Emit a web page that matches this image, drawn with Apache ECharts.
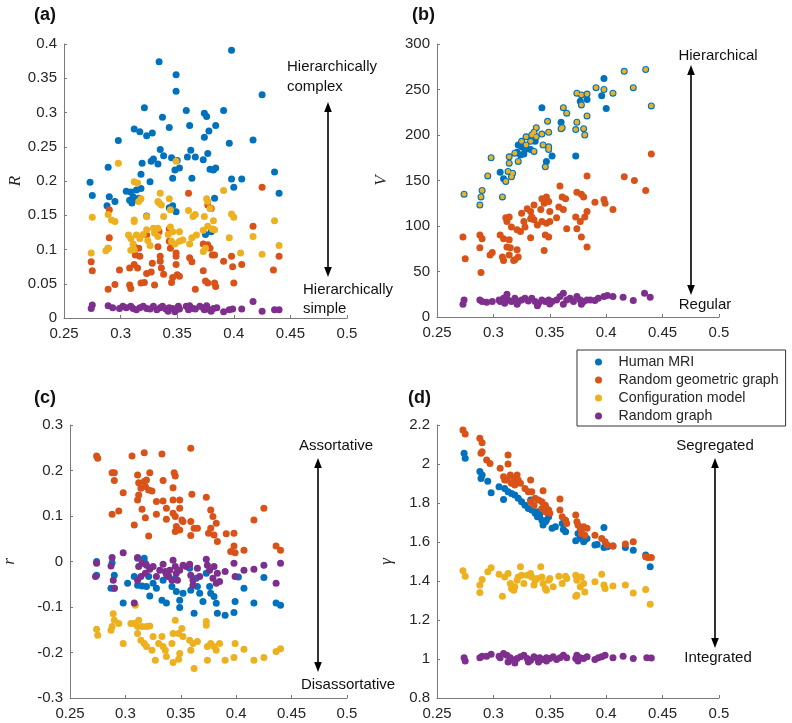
<!DOCTYPE html>
<html>
<head>
<meta charset="utf-8">
<script src="https://cdn.jsdelivr.net/npm/echarts@6/dist/echarts.min.js"></script>
<style>html,body{margin:0;padding:0;background:#fff}#c{width:792px;height:723px}</style>
</head>
<body>
<div id="c"></div>
<script>
// ---------- names, colours, axes ----------
const seriesNames = ['Human MRI', 'Random geometric graph', 'Configuration model', 'Random graph'];
const colors = ['#0072BD', '#D95319', '#EDB120', '#7E2F8E'];
const xRange = [0.25, 0.5, 0.05];
const yRangeA = [0, 0.4, 0.05];
const yRangeB = [0, 300, 50];
const yRangeC = [-0.3, 0.3, 0.1];
const yRangeD = [0.8, 2.2, 0.2];
const yNames = ['R', 'V', 'r', 'γ'];
const panelLabels = ['(a)', '(b)', '(c)', '(d)'];

// ---------- panel (a): R ----------
const aHuman = [[.398,.391],[.334,.374],[.349,.355],[.349,.331],[.425,.326],[.321,.307],[.358,.303],[.374,.299],[.376,.294],[.391,.303],[.337,.293],[.312,.276],[.317,.272],[.323,.266],[.328,.270],[.343,.278],[.361,.281],[.384,.281],[.378,.273],[.374,.264],[.298,.259],[.396,.255],[.417,.260],[.335,.246],[.338,.237],[.329,.232],[.327,.229],[.333,.225],[.345,.234],[.350,.230],[.348,.216],[.352,.219],[.346,.204],[.363,.204],[.359,.235],[.362,.245],[.366,.235],[.377,.240],[.373,.231],[.379,.217],[.382,.216],[.384,.219],[.319,.226],[.318,.210],[.326,.199],[.289,.220],[.273,.198],[.275,.179],[.398,.203],[.407,.203],[.400,.191],[.436,.213],[.440,.182],[.305,.185],[.309,.184],[.314,.187],[.318,.189],[.311,.177],[.308,.172],[.290,.177],[.295,.170],[.288,.164],[.310,.168],[.346,.164],[.343,.161],[.383,.175],[.349,.155],[.323,.149],[.380,.126],[.375,.122],[.312,.173],[.316,.175]];
const aRGG = [[.360,.182],[.425,.191],[.377,.165],[.380,.160],[.290,.158],[.417,.134],[.290,.117],[.289,.102],[.274,.082],[.275,.069],[.299,.070],[.295,.049],[.289,.042],[.308,.048],[.309,.043],[.312,.104],[.313,.092],[.312,.078],[.315,.073],[.316,.102],[.317,.090],[.318,.051],[.321,.052],[.323,.065],[.327,.067],[.328,.080],[.333,.104],[.334,.126],[.335,.083],[.336,.073],[.338,.064],[.343,.112],[.344,.102],[.345,.052],[.346,.059],[.349,.095],[.349,.090],[.349,.078],[.350,.063],[.352,.061],[.361,.088],[.363,.082],[.366,.042],[.373,.108],[.377,.107],[.379,.102],[.381,.092],[.383,.092],[.373,.069],[.375,.054],[.377,.051],[.383,.051],[.384,.046],[.391,.083],[.398,.090],[.399,.075],[.400,.051],[.407,.078],[.435,.070],[.440,.090],[.343,.130],[.323,.121],[.308,.073],[.335,.090],[.330,.048]];
const aConfig = [[.298,.226],[.349,.229],[.312,.199],[.315,.197],[.275,.147],[.289,.151],[.292,.143],[.295,.141],[.335,.182],[.336,.165],[.334,.168],[.318,.174],[.316,.170],[.333,.170],[.344,.158],[.343,.174],[.312,.143],[.312,.141],[.323,.148],[.338,.148],[.360,.157],[.364,.148],[.366,.151],[.374,.148],[.382,.142],[.377,.170],[.376,.174],[.379,.160],[.391,.186],[.398,.152],[.400,.147],[.436,.142],[.440,.106],[.417,.119],[.425,.093],[.406,.095],[.396,.117],[.274,.095],[.287,.098],[.289,.102],[.307,.121],[.309,.116],[.311,.108],[.312,.100],[.314,.121],[.317,.116],[.320,.122],[.323,.129],[.324,.113],[.326,.106],[.329,.131],[.330,.124],[.333,.119],[.342,.122],[.344,.133],[.346,.126],[.352,.126],[.361,.108],[.363,.117],[.367,.121],[.373,.128],[.377,.134],[.381,.130],[.383,.129],[.345,.112],[.348,.108],[.352,.112],[.355,.114],[.373,.097],[.375,.102],[.309,.099],[.333,.131]];
const aRandom = [[.275,.019],[.274,.014],[.289,.018],[.293,.015],[.299,.014],[.305,.015],[.311,.014],[.317,.015],[.323,.014],[.329,.017],[.335,.015],[.340,.013],[.346,.014],[.349,.012],[.352,.013],[.358,.017],[.361,.018],[.364,.014],[.373,.015],[.377,.013],[.382,.014],[.391,.009],[.396,.012],[.399,.013],[.407,.013],[.417,.024],[.425,.010],[.436,.012],[.440,.012],[.309,.017],[.320,.017],[.326,.013],[.337,.017],[.343,.015],[.348,.009],[.351,.017],[.360,.012],[.374,.012],[.380,.010],[.385,.015],[.302,.017],[.314,.012],[.332,.012],[.342,.010],[.366,.013],[.370,.017],[.376,.018]];

// ---------- panel (b): V ----------
const bShared = [[.274,135],[.290,139],[.289,132],[.288,123],[.298,175],[.295,155],[.308,132],[.311,149],[.313,160],[.314,169],[.314,176],[.317,158],[.316,154],[.319,180],[.322,171],[.329,189],[.333,193],[.336,182],[.338,208],[.338,198],[.343,201],[.344,189],[.346,165],[.348,215],[.349,203],[.349,187],[.349,184],[.362,230],[.365,224],[.360,207],[.361,208],[.374,214],[.373,206],[.380,207],[.381,200],[.383,221],[.374,246],[.378,244],[.378,233],[.383,245],[.391,252],[.398,250],[.406,246],[.416,270],[.424,252],[.435,272],[.440,232],[.325,193],[.329,198],[.334,200],[.336,203]];
const bHumanOnly = [[.306,159],[.309,152],[.322,189],[.325,187],[.328,184],[.324,178],[.321,181],[.327,179],[.347,171],[.352,177],[.360,214],[.377,237],[.383,239],[.333,184],[.337,193],[.343,230],[.373,177],[.400,229],[.398,262],[.396,243]];
const bRGG = [[.440,179],[.383,155],[.416,154],[.425,150],[.435,139],[.359,144],[.361,132],[.364,130],[.374,137],[.378,135],[.380,132],[.390,126],[.398,129],[.399,125],[.406,118],[.343,130],[.345,125],[.347,132],[.349,127],[.350,116],[.358,121],[.362,118],[.373,110],[.377,105],[.381,110],[.383,116],[.374,97],[.378,88],[.383,77],[.365,97],[.330,119],[.333,116],[.334,110],[.336,107],[.342,118],[.325,114],[.327,105],[.339,101],[.343,105],[.347,103],[.350,105],[.346,90],[.349,88],[.333,87],[.328,99],[.311,109],[.314,110],[.312,105],[.316,99],[.321,96],[.324,94],[.306,90],[.309,86],[.314,85],[.312,77],[.315,76],[.314,68],[.321,74],[.322,66],[.319,63],[.318,62],[.309,62],[.308,66],[.345,73],[.333,108],[.273,88],[.275,64],[.288,90],[.290,86],[.288,76],[.289,49],[.297,68],[.299,71],[.356,109],[.336,123]];
const bRandom = [[.274,18.7],[.273,13.9],[.288,18.7],[.290,16.9],[.294,16.1],[.299,16.9],[.305,18.7],[.306,16.9],[.309,20.5],[.312,24.9],[.313,18.7],[.316,16.9],[.319,20.5],[.322,16.9],[.325,18.7],[.328,20.5],[.331,17.6],[.334,20.5],[.337,16.9],[.340,15.0],[.343,18.7],[.346,16.9],[.349,18.7],[.352,16.9],[.356,18.7],[.359,22.4],[.362,26.0],[.365,18.7],[.368,20.5],[.371,16.9],[.374,22.4],[.377,18.7],[.380,16.9],[.383,18.7],[.386,18.7],[.390,18.0],[.393,20.5],[.398,22.4],[.401,23.5],[.406,22.4],[.415,21.6],[.424,18.0],[.434,26.0],[.439,21.6],[.321,13.9],[.339,12.5],[.350,14.3],[.362,13.9],[.378,13.9],[.310,15.0]];

// ---------- panel (c): r ----------
const cHuman = [[.274,.000],[.274,-.030],[.288,-.003],[.290,-.030],[.287,-.059],[.290,-.059],[.298,-.091],[.311,.007],[.317,.007],[.318,-.004],[.321,-.033],[.322,-.076],[.325,-.048],[.328,-.059],[.333,-.085],[.337,-.091],[.342,-.055],[.345,-.037],[.346,-.066],[.349,-.085],[.349,-.101],[.352,-.070],[.358,-.015],[.359,-.063],[.362,-.114],[.364,-.037],[.365,-.055],[.367,-.070],[.370,-.088],[.373,-.026],[.376,-.055],[.377,-.070],[.380,-.077],[.382,-.092],[.383,-.114],[.390,-.118],[.398,-.112],[.399,-.088],[.402,-.034],[.407,-.059],[.416,-.091],[.425,-.035],[.436,-.091],[.440,-.096],[.334,-.041],[.339,-.033],[.302,-.048],[.308,-.033],[.311,-.052],[.315,-.054],[.319,-.055]];
const cRGG = [[.274,.232],[.275,.227],[.306,.232],[.317,.239],[.333,.236],[.359,.249],[.288,.195],[.290,.195],[.290,.178],[.311,.190],[.322,.195],[.344,.195],[.345,.188],[.334,.178],[.312,.173],[.317,.176],[.318,.165],[.321,.157],[.324,.155],[.314,.161],[.312,.146],[.311,.135],[.298,.151],[.343,.162],[.360,.148],[.373,.141],[.328,.132],[.334,.133],[.343,.135],[.349,.135],[.315,.115],[.318,.096],[.328,.104],[.337,.117],[.337,.093],[.343,.106],[.345,.099],[.349,.117],[.351,.091],[.352,.088],[.288,.104],[.294,.111],[.308,.080],[.321,.056],[.346,.077],[.349,.069],[.359,.088],[.362,.073],[.365,.073],[.359,.057],[.377,.113],[.379,.099],[.382,.084],[.377,.073],[.375,.062],[.380,.058],[.383,.044],[.391,.061],[.398,.062],[.398,.034],[.399,.019],[.407,.025],[.395,.022],[.416,.091],[.425,.117],[.436,.034],[.440,.025],[.345,.066],[.319,.179]];
const cConfig = [[.274,-.149],[.275,-.162],[.288,-.143],[.287,-.151],[.290,-.129],[.289,-.115],[.294,-.136],[.298,-.180],[.309,-.096],[.308,-.136],[.311,-.143],[.312,-.129],[.315,-.143],[.319,-.143],[.322,-.142],[.311,-.158],[.314,-.173],[.317,-.180],[.319,-.187],[.324,-.195],[.327,-.217],[.334,-.187],[.336,-.195],[.333,-.165],[.342,-.180],[.343,-.158],[.345,-.129],[.348,-.158],[.351,-.147],[.352,-.165],[.349,-.202],[.343,-.222],[.348,-.215],[.358,-.173],[.359,-.195],[.362,-.235],[.365,-.176],[.373,-.132],[.373,-.140],[.374,-.187],[.377,-.180],[.380,-.187],[.382,-.195],[.385,-.180],[.374,-.217],[.390,-.217],[.398,-.211],[.399,-.180],[.407,-.193],[.416,-.217],[.425,-.211],[.436,-.198],[.440,-.192],[.305,-.136],[.325,-.165],[.330,-.180],[.337,-.209],[.361,-.180]];
const cRandom = [[.288,.009],[.287,-.010],[.289,-.041],[.290,-.059],[.298,.019],[.308,-.091],[.311,.009],[.312,-.011],[.315,-.004],[.319,-.008],[.322,-.017],[.325,-.011],[.328,-.033],[.334,-.006],[.336,-.022],[.337,-.028],[.340,-.019],[.343,.003],[.345,-.011],[.346,-.026],[.347,-.041],[.349,-.019],[.352,-.008],[.358,-.006],[.359,-.030],[.361,-.041],[.361,-.052],[.365,-.015],[.373,.005],[.374,-.008],[.376,-.019],[.379,-.037],[.382,-.048],[.383,-.026],[.390,-.022],[.398,-.004],[.399,-.033],[.407,-.019],[.416,-.017],[.425,-.008],[.436,-.048],[.440,-.004],[.311,-.041],[.314,-.033],[.318,-.026],[.331,-.019],[.339,-.033],[.342,-.041],[.355,-.011],[.367,-.033],[.380,-.011],[.385,-.044],[.274,-.004],[.273,-.033]];

// ---------- panel (d): gamma ----------
const dHuman = [[.274,2.055],[.275,2.029],[.288,1.961],[.290,1.943],[.289,1.926],[.295,1.912],[.298,1.853],[.305,1.883],[.309,1.818],[.310,1.875],[.313,1.858],[.316,1.849],[.319,1.841],[.322,1.824],[.325,1.806],[.328,1.789],[.331,1.772],[.334,1.764],[.337,1.755],[.340,1.755],[.341,1.738],[.333,1.815],[.343,1.712],[.346,1.704],[.347,1.712],[.344,1.687],[.349,1.730],[.352,1.670],[.355,1.678],[.362,1.664],[.364,1.652],[.361,1.695],[.373,1.606],[.375,1.644],[.377,1.618],[.380,1.601],[.381,1.610],[.383,1.618],[.390,1.584],[.392,1.587],[.398,1.675],[.398,1.572],[.401,1.576],[.406,1.579],[.417,1.572],[.424,1.558],[.435,1.533],[.439,1.473],[.337,1.747],[.339,1.730]];
const dRGG = [[.273,2.174],[.275,2.154],[.288,2.132],[.290,2.109],[.289,2.055],[.290,2.063],[.294,2.020],[.297,2.003],[.306,1.978],[.313,2.046],[.313,2.000],[.309,1.935],[.312,1.918],[.315,1.943],[.318,1.926],[.321,1.943],[.322,1.918],[.324,1.901],[.316,1.901],[.319,1.892],[.310,1.918],[.333,1.918],[.328,1.875],[.331,1.858],[.334,1.858],[.337,1.824],[.340,1.815],[.343,1.806],[.344,1.863],[.346,1.789],[.347,1.772],[.349,1.764],[.343,1.772],[.346,1.755],[.350,1.747],[.359,1.820],[.359,1.764],[.361,1.730],[.364,1.712],[.365,1.695],[.373,1.738],[.374,1.704],[.375,1.687],[.377,1.670],[.378,1.661],[.380,1.678],[.383,1.670],[.378,1.644],[.381,1.635],[.390,1.635],[.396,1.618],[.399,1.601],[.401,1.584],[.406,1.579],[.417,1.590],[.424,1.601],[.435,1.524],[.437,1.521],[.440,1.521],[.333,1.806],[.336,1.789]];
const dConfig = [[.273,1.452],[.275,1.425],[.288,1.379],[.290,1.408],[.288,1.341],[.298,1.468],[.295,1.447],[.305,1.435],[.308,1.322],[.310,1.421],[.313,1.439],[.315,1.387],[.316,1.361],[.318,1.353],[.319,1.370],[.321,1.404],[.322,1.421],[.324,1.473],[.325,1.430],[.327,1.387],[.330,1.430],[.333,1.439],[.334,1.421],[.336,1.379],[.337,1.404],[.339,1.413],[.342,1.473],[.343,1.421],[.344,1.387],[.346,1.361],[.347,1.353],[.349,1.404],[.350,1.413],[.353,1.370],[.358,1.425],[.364,1.425],[.365,1.413],[.361,1.387],[.373,1.430],[.374,1.404],[.375,1.421],[.377,1.370],[.378,1.421],[.380,1.387],[.381,1.344],[.374,1.327],[.373,1.322],[.390,1.396],[.396,1.435],[.398,1.379],[.399,1.361],[.406,1.375],[.417,1.379],[.424,1.339],[.435,1.356],[.439,1.281]];
const dRandom = [[.274,1.007],[.275,0.990],[.288,1.007],[.290,1.014],[.294,1.014],[.298,1.024],[.305,1.014],[.306,1.007],[.309,1.028],[.312,1.019],[.315,1.007],[.318,0.994],[.321,1.002],[.324,1.011],[.327,1.019],[.330,1.002],[.333,0.994],[.336,1.011],[.339,1.002],[.341,1.007],[.344,0.997],[.347,1.007],[.350,1.002],[.353,1.011],[.356,0.997],[.359,1.007],[.362,1.019],[.365,1.007],[.373,1.002],[.374,1.019],[.377,1.007],[.380,1.002],[.383,1.011],[.390,0.997],[.393,1.007],[.396,1.011],[.399,1.019],[.406,1.007],[.415,1.014],[.424,1.002],[.436,1.007],[.440,1.005],[.313,0.985],[.319,0.980],[.331,0.985],[.340,0.985],[.347,0.990],[.375,0.990]];

// ---------- build ----------
const TXT = '#262626';
const AX = '#7a7a7a';
const FONT = '"Liberation Sans", Arial, sans-serif';
const grids = [
  {left: 64, top: 44, width: 283, height: 274},
  {left: 437, top: 44, width: 282, height: 273},
  {left: 65, top: 425, width: 282, height: 273},
  {left: 437, top: 425, width: 282, height: 273}
];
const yRanges = [yRangeA, yRangeB, yRangeC, yRangeD];
const nameGaps = [38, 47, 52, 42];

function xAx(i) {
  return {
    type: 'value', gridIndex: i, min: xRange[0], max: xRange[1], interval: xRange[2],
    axisLine: {show: true, onZero: false, lineStyle: {color: AX, width: 1}},
    axisTick: {show: true, inside: true, length: 3, lineStyle: {color: AX}},
    axisLabel: {color: TXT, fontSize: 15, fontFamily: FONT, margin: 8},
    splitLine: {show: false}
  };
}
function yAx(i) {
  const r = yRanges[i];
  return {
    type: 'value', gridIndex: i, min: r[0], max: r[1], interval: r[2],
    name: yNames[i], nameLocation: 'middle', nameGap: nameGaps[i], nameRotate: 90,
    nameTextStyle: {fontFamily: '"Liberation Serif", "Times New Roman", serif', fontStyle: 'italic', fontSize: 17, color: TXT},
    axisLine: {show: true, onZero: false, lineStyle: {color: AX, width: 1}},
    axisTick: {show: true, inside: true, length: 3, lineStyle: {color: AX}},
    axisLabel: {color: TXT, fontSize: 15, fontFamily: FONT, margin: 7},
    splitLine: {show: false}
  };
}
function sc(i, k, data, size) {
  return {
    type: 'scatter', name: seriesNames[k], xAxisIndex: i, yAxisIndex: i,
    data: data, symbol: 'circle', symbolSize: size || 7,
    itemStyle: {color: colors[k], opacity: 1},
    emphasis: {disabled: true}, z: 2 + k
  };
}
const panels = [
  [aHuman, aRGG, aConfig, aRandom],
  [bShared.concat(bHumanOnly), bRGG, bShared, bRandom],
  [cHuman, cRGG, cConfig, cRandom],
  [dHuman, dRGG, dConfig, dRandom]
];
const series = [];
panels.forEach((p, i) => {
  p.forEach((d, k) => {
    series.push(sc(i, k, d, (i === 1 && k === 2) ? 4.8 : 7));
  });
});

// arrows and annotation texts (pixel positions)
function arrow(x, y1, y2) {
  const hl = 10, hw = 3.8;
  return [
    {type: 'line', shape: {x1: x, y1: y1 + 4, x2: x, y2: y2 - 4}, style: {stroke: '#000', lineWidth: 1.6}},
    {type: 'polygon', shape: {points: [[x, y1], [x - hw, y1 + hl], [x + hw, y1 + hl]]}, style: {fill: '#000'}},
    {type: 'polygon', shape: {points: [[x, y2], [x - hw, y2 - hl], [x + hw, y2 - hl]]}, style: {fill: '#000'}}
  ];
}
function txt(t, x, y, align, size, weight) {
  return {type: 'text', x: x, y: y, z: 10, style: {
    text: t, fill: '#111', textAlign: align || 'center', textVerticalAlign: 'middle',
    font: (weight || 'normal') + ' ' + (size || 15) + 'px ' + FONT
  }};
}
const graphics = [].concat(
  arrow(328, 102, 277), arrow(691, 65, 295), arrow(318, 458, 672), arrow(715, 458, 648),
  [
    txt('Hierarchically', 287, 67, 'left'), txt('complex', 287, 87, 'left'),
    txt('Hierarchically', 303, 290, 'left'), txt('simple', 303, 309, 'left'),
    txt('Hierarchical', 718, 56), txt('Regular', 705, 305),
    txt('Assortative', 336, 446), txt('Disassortative', 348, 685),
    txt('Segregated', 715, 446), txt('Integrated', 718, 658),
    txt(panelLabels[0], 34, 15, 'left', 18, 'bold'), txt(panelLabels[1], 412, 15, 'left', 18, 'bold'),
    txt(panelLabels[2], 34, 398, 'left', 18, 'bold'), txt(panelLabels[3], 408, 398, 'left', 18, 'bold')
  ]
);

const chart = echarts.init(document.getElementById('c'), null, {renderer: 'canvas'});
chart.setOption({
  animation: false,
  backgroundColor: '#fff',
  grid: grids,
  xAxis: [0, 1, 2, 3].map(xAx),
  yAxis: [0, 1, 2, 3].map(yAx),
  legend: {
    data: seriesNames, orient: 'vertical', left: 577, top: 350,
    icon: 'circle', itemWidth: 30, itemHeight: 7, itemGap: 4,
    padding: [5, 7, 3, 18], borderColor: '#333', borderWidth: 1, backgroundColor: '#fff',
    textStyle: {fontSize: 14.2, fontFamily: FONT, color: TXT, lineHeight: 14}, selectedMode: false
  },
  graphic: graphics,
  series: series
});
</script>
</body>
</html>
